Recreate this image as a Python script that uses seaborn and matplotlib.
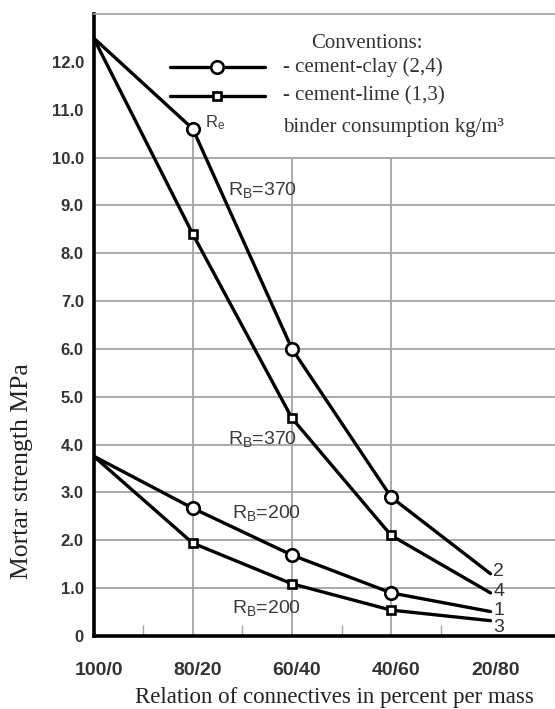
import numpy as np
import matplotlib
matplotlib.use("Agg")
import matplotlib.pyplot as plt
import seaborn as sns
from matplotlib.transforms import ScaledTranslation

# ---------------- data ----------------
categories = ["100/0", "80/20", "60/40", "40/60", "20/80"]
clay_370 = [12.5, 10.6, 6.0, 2.9, 1.3]    # curve 2, circles
lime_370 = [12.5, 8.4, 4.55, 2.1, 0.9]    # curve 4, squares
clay_200 = [3.76, 2.67, 1.69, 0.9, 0.51]  # curve 1, circles
lime_200 = [3.76, 1.94, 1.09, 0.54, 0.32] # curve 3, squares
curve_labels = ["2", "4", "1", "3"]
y_ticks = [0, 1, 2, 3, 4, 5, 6, 7, 8, 9, 10, 11, 12]
y_ticklabels = ["0", "1.0", "2.0", "3.0", "4.0", "5.0", "6.0", "7.0",
                "8.0", "9.0", "10.0", "11.0", "12.0"]

sns.set_theme(style="white")
plt.rcParams['font.family'] = ['Liberation Sans', 'DejaVu Sans']
plt.rcParams['mathtext.fontset'] = 'custom'
plt.rcParams['mathtext.rm'] = 'Liberation Sans'
plt.rcParams['mathtext.it'] = 'Liberation Sans'

fig = plt.figure(figsize=(5.55, 7.09), dpi=100)
fig.patch.set_facecolor('white')
ax = fig.add_axes([0.1685, 0.1030, 0.8315, 0.8773])
ax.set_facecolor('white')

x = np.arange(len(categories))
XMAX = 4.65
grid_c = '#a3a3a3'

# grid
ax.hlines(y_ticks[1:11], 0, XMAX, color=grid_c, lw=1.3, zorder=1)
ax.vlines(x[1:4], 0, 10, color=grid_c, lw=1.3, zorder=1)
ax.vlines(x[1], 10, clay_370[1], color=grid_c, lw=1.3, zorder=1)

series = [
    (clay_370, 'o', 9.0),
    (lime_370, 's', 6.0),
    (clay_200, 'o', 9.0),
    (lime_200, 's', 6.0),
]
for vals, mk, ms in series:
    sns.lineplot(x=x, y=vals, ax=ax, color='black', lw=2.4, marker=mk,
                 markersize=ms, markerfacecolor='white',
                 markeredgecolor='black', markeredgewidth=1.9,
                 markevery=[1, 2, 3], zorder=3, legend=False)

# curve number labels at the right ends
end_y = [1.35, 0.92, 0.53, 0.17]
for yy, lab in zip(end_y, curve_labels):
    ax.text(4.03, yy, lab, fontsize=14, color='#333333', ha='left', va='center', zorder=4)

txt_c = '#3a3a3a'
ax.text(1.355, 9.33, r"R$_\mathrm{B}$=370", fontsize=14, color=txt_c, ha='left', va='center')
ax.text(1.355, 4.11, r"R$_\mathrm{B}$=370", fontsize=14, color=txt_c, ha='left', va='center')
ax.text(1.395, 2.57, r"R$_\mathrm{B}$=200", fontsize=14, color=txt_c, ha='left', va='center')
ax.text(1.395, 0.58, r"R$_\mathrm{B}$=200", fontsize=14, color=txt_c, ha='left', va='center')
ax.text(1.12, 10.73, r"R$_\mathrm{e}$", fontsize=12, color=txt_c, ha='left', va='center')

# conventions block (axes coordinates)
serif = ['Liberation Serif', 'DejaVu Serif']
ax.text(0.593, 0.953, "Conventions:", transform=ax.transAxes, ha='center', va='center',
        fontsize=15, family=serif, color='#333333')
ax.plot([0.1657, 0.3716], [0.9153, 0.9153], transform=ax.transAxes, color='black', lw=2.4, zorder=3)
ax.plot([0.2669], [0.9153], transform=ax.transAxes, ls='none', marker='o', markersize=9.0,
        markerfacecolor='white', markeredgecolor='black', markeredgewidth=1.9, zorder=4)
ax.plot([0.1657, 0.3716], [0.8687, 0.8687], transform=ax.transAxes, color='black', lw=2.4, zorder=3)
ax.plot([0.2669], [0.8687], transform=ax.transAxes, ls='none', marker='s', markersize=6.0,
        markerfacecolor='white', markeredgecolor='black', markeredgewidth=1.9, zorder=4)
ax.text(0.4106, 0.9153, "- cement-clay (2,4)", transform=ax.transAxes, ha='left', va='center',
        fontsize=15, family=serif, color='#333333')
ax.text(0.4106, 0.8687, "- cement-lime (1,3)", transform=ax.transAxes, ha='left', va='center',
        fontsize=15, family=serif, color='#333333')
ax.text(0.4106, 0.818, "binder consumption kg/m³", transform=ax.transAxes, ha='left', va='center',
        fontsize=15, family=serif, color='#333333')

# axes limits & ticks
ax.set_xlim(0, XMAX)
ax.set_ylim(0, 13)
ax.set_xticks(x)
ax.set_xticklabels(categories, fontweight='bold', color='#333333', fontsize=14)
ax.set_xticks([0.5, 1.5, 2.5, 3.5], minor=True)
ax.tick_params(axis='x', which='major', length=0, pad=19)
ax.tick_params(axis='x', which='minor', direction='in', length=8, width=1.0, color=grid_c, bottom=True)
ax.set_yticks(y_ticks)
ax.set_yticklabels(y_ticklabels, fontweight='bold', color='#333333', fontsize=12)
ax.tick_params(axis='y', length=0, pad=7)
off = ScaledTranslation(5 / 100, 0, fig.dpi_scale_trans)
for lab in ax.get_xticklabels():
    lab.set_transform(lab.get_transform() + off)

for side in ['left', 'bottom']:
    ax.spines[side].set_color('black')
    ax.spines[side].set_linewidth(2.6)
ax.spines['top'].set_color(grid_c)
ax.spines['top'].set_linewidth(1.2)
ax.spines['right'].set_visible(False)

ax.set_xlabel("Relation of connectives in percent per mass", family=serif, fontsize=16.5, color='#222222')
ax.xaxis.set_label_coords(0.522, -0.0997)
ax.xaxis.label.set_va('center')
ax.set_ylabel("Mortar strength MPa", family=serif, fontsize=18.5, color='#222222')
ax.yaxis.set_label_coords(-0.155, 0.265)
ax.yaxis.label.set_va('center')
ax.yaxis.label.set_ha('center')

fig.savefig("out.png", dpi=100)
